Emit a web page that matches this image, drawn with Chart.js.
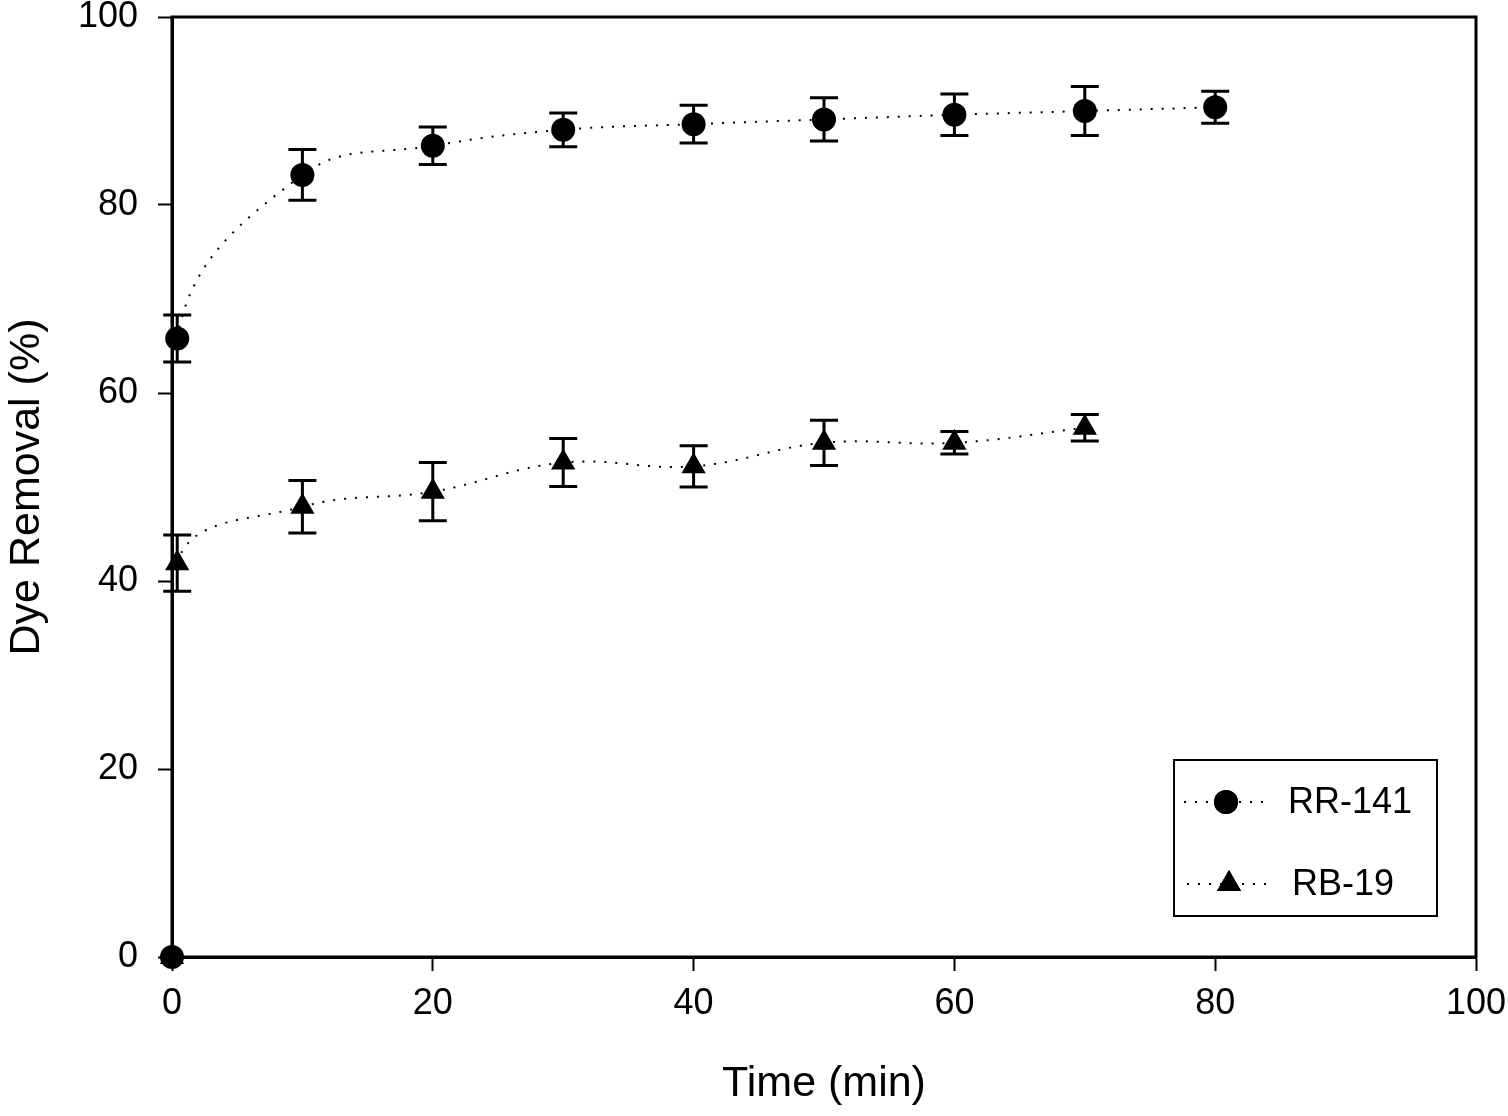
<!DOCTYPE html>
<html>
<head>
<meta charset="utf-8">
<script src="https://cdn.jsdelivr.net/npm/chart.js@4.4.0/dist/chart.umd.min.js"></script>
<style>
  html, body { margin: 0; padding: 0; background: #fff; }
  #wrap { width: 1508px; height: 1116px; }
</style>
</head>
<body>
<div id="wrap"><canvas id="chart"></canvas></div>
<script>
// data
const times = [0, 0.4, 10, 20, 30, 40, 50, 60, 70, 80];
const rr141 = [0, 65.8, 83.2, 86.3, 88.0, 88.6, 89.1, 89.6, 90.0, 90.4];
const rr141Err = [0, 2.5, 2.7, 2.0, 1.8, 2.0, 2.3, 2.2, 2.6, 1.7];
const rbTimes = [0, 0.4, 10, 20, 30, 40, 50, 60, 70];
const rb19 = [0, 41.9, 47.9, 49.5, 52.6, 52.2, 54.7, 54.7, 56.3];
const rb19Err = [0, 3.0, 2.8, 3.1, 2.55, 2.2, 2.4, 1.2, 1.4];
const xTicks = [0, 20, 40, 60, 80, 100];
const yTicks = [0, 20, 40, 60, 80, 100];

const FONT = 'Arial, "Liberation Sans", sans-serif';

function toPoints(xs, ys, errs) {
    let pts = [];
    for (let i = 0; i < xs.length; i++) {
        pts.push({ x: xs[i], y: ys[i], err: errs[i] });
    }
    return pts;
}

// hide the segment that joins the origin marker to the curve
const hideFirst = ctx => ctx.p0DataIndex === 0 ? 'rgba(0,0,0,0)' : '#000';

const errorBars = {
    id: 'errorBars',
    afterDatasetsDraw(chart) {
        const ctx = chart.ctx;
        const ys = chart.scales.y;
        ctx.save();
        ctx.strokeStyle = '#000';
        ctx.lineWidth = 3;
        chart.data.datasets.forEach((ds, di) => {
            const meta = chart.getDatasetMeta(di);
            ds.data.forEach((p, i) => {
                if (!p.err) return;
                const px = meta.data[i].x;
                const top = ys.getPixelForValue(p.y + p.err);
                const bot = ys.getPixelForValue(p.y - p.err);
                ctx.beginPath();
                ctx.moveTo(px, top); ctx.lineTo(px, bot);
                ctx.moveTo(px - 14, top); ctx.lineTo(px + 14, top);
                ctx.moveTo(px - 14, bot); ctx.lineTo(px + 14, bot);
                ctx.stroke();
            });
        });
        ctx.restore();
    }
};

const frameAndLegend = {
    id: 'frameAndLegend',
    afterDraw(chart) {
        const ctx = chart.ctx;
        const a = chart.chartArea;
        ctx.save();
        ctx.strokeStyle = '#000';
        ctx.lineWidth = 3;
        ctx.strokeRect(a.left, a.top, a.right - a.left, a.bottom - a.top);

        // legend box
        ctx.lineWidth = 2;
        ctx.strokeRect(1174, 760, 263, 156);
        const rows = [
            { label: 'RR-141', style: 'circle', y: 802, x0: 1184, mx: 1226, tx: 1288, r: 12 },
            { label: 'RB-19', style: 'triangle', y: 884, x0: 1187, mx: 1229, tx: 1292, r: 14 }
        ];
        rows.forEach(row => {
            ctx.lineWidth = 2;
            ctx.setLineDash([2, 9]);
            ctx.beginPath();
            ctx.moveTo(row.x0, row.y);
            ctx.lineTo(row.x0 + 80, row.y);
            ctx.stroke();
            ctx.setLineDash([]);
            ctx.fillStyle = '#000';
            Chart.helpers.drawPoint(ctx, { pointStyle: row.style, radius: row.r, borderWidth: 0 }, row.mx, row.y);
            ctx.fill();
            ctx.font = '36px ' + FONT;
            ctx.textBaseline = 'middle';
            ctx.textAlign = 'left';
            ctx.fillText(row.label, row.tx, row.y + 1);
        });
        ctx.restore();
    }
};

const data = {
    datasets: [{
        label: 'RR-141',
        data: toPoints(times, rr141, rr141Err),
        borderColor: '#000',
        backgroundColor: '#000',
        borderWidth: 2,
        borderDash: [2, 9],
        pointStyle: 'circle',
        pointRadius: 12,
        pointBorderWidth: 0,
        tension: 0.4,
        clip: false,
        segment: { borderColor: hideFirst }
    }, {
        label: 'RB-19',
        data: toPoints(rbTimes, rb19, rb19Err),
        borderColor: '#000',
        backgroundColor: '#000',
        borderWidth: 2,
        borderDash: [2, 9],
        pointStyle: 'triangle',
        pointRadius: 14,
        pointBorderWidth: 0,
        tension: 0.4,
        clip: false,
        segment: { borderColor: hideFirst }
    }]
};

new Chart(document.getElementById('chart'), {
    type: 'line',
    data: data,
    options: {
        responsive: true,
        maintainAspectRatio: false,
        animation: false,
        devicePixelRatio: 1,
        layout: { autoPadding: false, padding: { top: 17, right: 32, left: 0, bottom: 0 } },
        plugins: {
            legend: { display: false },
            tooltip: { enabled: false }
        },
        scales: {
            x: {
                type: 'linear',
                min: 0,
                max: 100,
                afterBuildTicks: s => { s.ticks = xTicks.map(v => ({ value: v })); },
                afterFit: s => { s.height = 159; s.paddingLeft = 0; s.paddingRight = 0; },
                grid: { drawOnChartArea: false, tickLength: 14, tickWidth: 2, tickColor: '#000' },
                border: { color: '#000', width: 3 },
                ticks: { color: '#000', font: { family: FONT, size: 36 }, padding: 11, maxRotation: 0 },
                title: { display: true, text: 'Time (min)', color: '#000', font: { family: FONT, size: 43 }, padding: { top: 0, bottom: 6 } }
            },
            y: {
                type: 'linear',
                min: 0,
                max: 100,
                afterBuildTicks: s => { s.ticks = yTicks.map(v => ({ value: v })); },
                afterFit: s => { s.width = 172; s.paddingTop = 0; s.paddingBottom = 0; },
                grid: { drawOnChartArea: false, tickLength: 14, tickWidth: 2, tickColor: '#000' },
                border: { color: '#000', width: 3 },
                ticks: { color: '#000', font: { family: FONT, size: 36 }, padding: 20 },
                title: { display: true, text: 'Dye Removal (%)', color: '#000', font: { family: FONT, size: 43 }, padding: { top: 1, bottom: 0 } }
            }
        }
    },
    plugins: [errorBars, frameAndLegend]
});
</script>
</body>
</html>
